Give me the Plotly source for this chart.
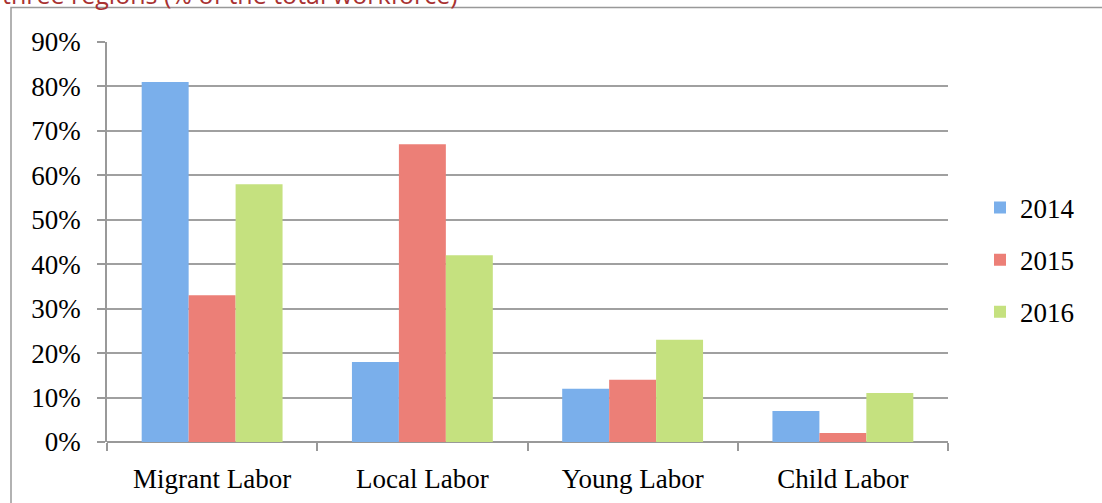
import plotly.graph_objects as go

categories = ["Migrant Labor", "Local Labor", "Young Labor", "Child Labor"]
years = ["2014", "2015", "2016"]
values_2014 = [0.81, 0.18, 0.12, 0.07]
values_2015 = [0.33, 0.67, 0.14, 0.02]
values_2016 = [0.58, 0.42, 0.23, 0.11]
series = [values_2014, values_2015, values_2016]
colors = ["#7aafeb", "#ec7f77", "#c5e17f"]
y_ticks = [0, 0.1, 0.2, 0.3, 0.4, 0.5, 0.6, 0.7, 0.8, 0.9]
title_text = "three regions (% of the total workforce)"

W, H = 1102, 503
L, R, T, B = 107, 154, 42, 61
pw, ph = W - L - R, H - T - B

serif = "Liberation Serif, serif"

fig = go.Figure()
for i, (yr, vals, c) in enumerate(zip(years, series, colors)):
    fig.add_trace(go.Bar(
        x=categories, y=vals, name=yr, marker=dict(color=c, line=dict(width=0)),
        legendgroup=yr,
    ))

fig.update_layout(
    template="none",
    width=W, height=H,
    margin=dict(l=L, r=R, t=T, b=B, pad=0, autoexpand=False),
    paper_bgcolor="white", plot_bgcolor="white",
    barmode="group", bargap=0.33, bargroupgap=0,
    font=dict(family=serif, size=27, color="black"),
    showlegend=True,
    legend=dict(
        x=(980 - L) / pw, xanchor="left",
        y=(442 - 260) / ph, yanchor="middle",
        font=dict(family=serif, size=27, color="black"),
        tracegroupgap=14, traceorder="grouped",
        bgcolor="rgba(0,0,0,0)", borderwidth=0,
    ),
    xaxis=dict(
        automargin=False,
        showline=False, ticks="outside", tickson="boundaries", ticklen=8,
        tickcolor="#999999", tickwidth=1.5, showgrid=False,
        tickfont=dict(family=serif, size=27), ticklabelstandoff=18,
    ),
    yaxis=dict(
        automargin=False,
        range=[0, 0.9], tickvals=y_ticks, tickformat=".0%",
        showgrid=True, gridcolor="#a0a0a0", gridwidth=1.5,
        showline=True, linecolor="#999999", linewidth=1.5,
        ticks="outside", ticklen=8, tickcolor="#999999", tickwidth=1.5,
        zeroline=True, zerolinecolor="#999999", zerolinewidth=1.5,
        tickfont=dict(family=serif, size=27), ticklabelstandoff=11,
    ),
)

fig.add_shape(
    type="rect", xref="paper", yref="paper",
    x0=(11 - L) / pw, x1=(1200 - L) / pw,
    y0=(442 - 600) / ph, y1=(442 - 7.5) / ph,
    line=dict(color="#999999", width=1.5), fillcolor="rgba(0,0,0,0)", layer="below",
)

fig.add_annotation(
    text=title_text, xref="paper", yref="paper",
    x=(0 - L) / pw, xanchor="left",
    y=(442 - 13) / ph, yanchor="bottom",
    showarrow=False, font=dict(family="Open Sans", size=25, color="#a83232"),
)

fig.write_html("out.html")
